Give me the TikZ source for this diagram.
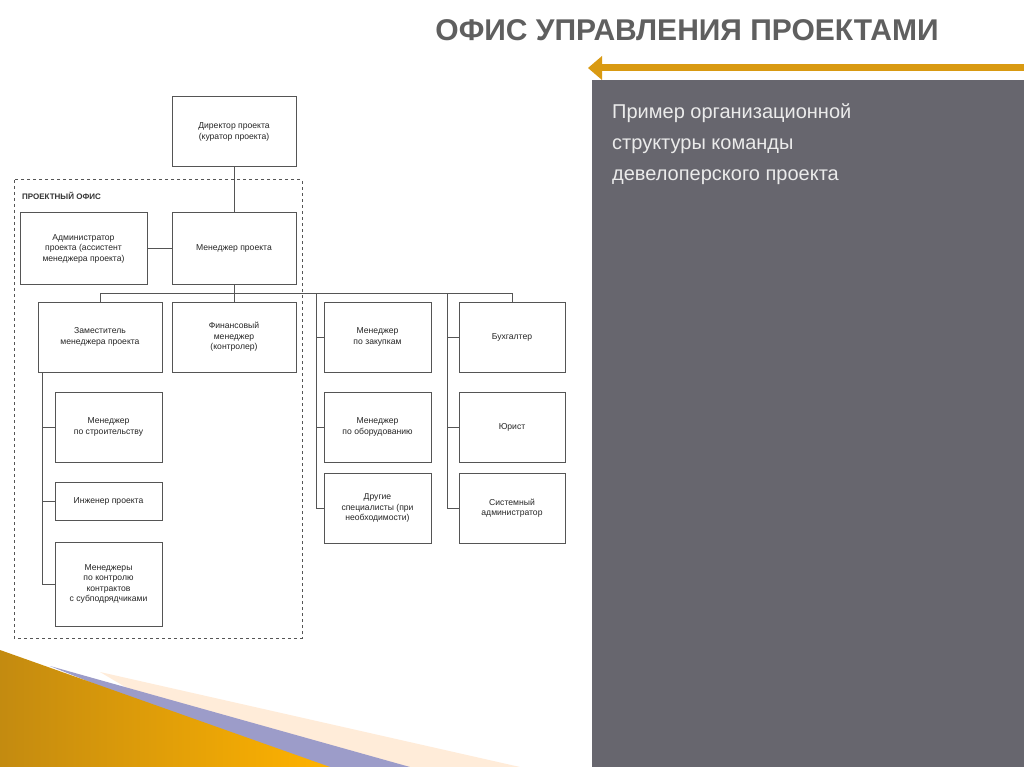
\documentclass[tikz,border=0pt]{standalone}
\usepackage{fontspec}
\setmainfont{Liberation Sans}
\definecolor{panel}{HTML}{67666E}
\definecolor{orng}{HTML}{D99A12}
\definecolor{ttl}{HTML}{5F5F5F}
\definecolor{ln}{HTML}{555555}
\begin{document}
\begin{tikzpicture}[x=1pt,y=-1pt,
  bx/.style={draw=ln,line width=1pt,align=center,font=\fontsize{8.6}{10.5}\selectfont,text=black!85,inner sep=1pt},
  cn/.style={draw=ln,line width=1pt}]
\useasboundingbox (0,0) rectangle (1024,767);
\fill[white] (0,0) rectangle (1024,767);
% panel
\fill[panel] (592,80) rectangle (1024,767);
\draw[orng,line width=7pt] (600,68) -- (1024,68);
\fill[orng] (588,68) -- (602,56) -- (602,80) -- cycle;
\node[anchor=center,font=\bfseries\fontsize{30}{34}\selectfont,text=ttl] (title) at (687,30) {ОФИС УПРАВЛЕНИЯ ПРОЕКТАМИ};
\node[anchor=north west,align=left,text=white!92!black,font=\fontsize{20}{31}\selectfont,inner sep=0] (ptxt) at (612,103) {Пример организационной\\структуры команды\\девелоперского проекта};
% bottom decoration
\fill[orange!15] (100,672) -- (520,767) -- (260,767) -- cycle;
\fill[gray!70!blue!60] (50,666) -- (410,767) -- (300,767) -- cycle;
\shade[left color=orng!90!black,right color=orange!60!yellow] (0,650) -- (330,767) -- (0,767) -- cycle;
% office
\draw[ln,dashed,line width=1pt] (14,180) rectangle (302,638);
\node[anchor=west,font=\bfseries\fontsize{8}{9}\selectfont,text=black!80,inner sep=0] (po) at (22,196) {ПРОЕКТНЫЙ ОФИС};
% boxes
\newcommand{\bxx}[6]{\node[bx,minimum width=#3-#2,minimum height=#5-#4] (#1) at ({(#2+#3)/2},{(#4+#5)/2}) {#6};}
\bxx{dir}{172}{296}{97}{167}{Директор проекта\\(куратор проекта)}
\bxx{adm}{20}{147}{213}{284}{Администратор\\проекта (ассистент\\менеджера проекта)}
\bxx{man}{172}{296}{213}{284}{Менеджер проекта}
\bxx{dep}{38}{162}{302}{372}{Заместитель\\менеджера проекта}
\bxx{fin}{172}{296}{302}{372}{Финансовый\\менеджер\\(контролер)}
\bxx{pur}{324}{431}{302}{372}{Менеджер\\по закупкам}
\bxx{buh}{459}{565}{302}{372}{Бухгалтер}
\bxx{con}{55}{162}{392}{462}{Менеджер\\по строительству}
\bxx{eng}{55}{162}{482}{520}{Инженер проекта}
\bxx{ctr}{55}{162}{542}{626}{Менеджеры\\по контролю\\контрактов\\с субподрядчиками}
\bxx{equ}{324}{431}{392}{462}{Менеджер\\по оборудованию}
\bxx{oth}{324}{431}{473}{543}{Другие\\специалисты (при\\необходимости)}
\bxx{law}{459}{565}{392}{462}{Юрист}
\bxx{sys}{459}{565}{473}{543}{Системный\\администратор}
% connectors
\coordinate (bl) at (100,293);
\coordinate (br) at (512,293);
\draw[cn] (dir) -- (man);
\draw[cn] (adm) -- (man);
\draw[cn] (man.south) -- (234,293);
\draw[cn] (bl) -- (br);
\draw[cn] (bl) -- (dep.north -| bl);
\draw[cn] (234,293) -- (fin.north);
\draw[cn] (br) -- (buh.north -| br);
\draw[cn] (316,293) |- (oth.west);
\draw[cn] (316,337) -- (pur.west);
\draw[cn] (316,427) -- (equ.west);
\draw[cn] (447,293) |- (sys.west);
\draw[cn] (447,337) -- (buh.west);
\draw[cn] (447,427) -- (law.west);
\draw[cn] (42,372) |- (ctr.west);
\draw[cn] (42,427) -- (con.west);
\draw[cn] (42,501) -- (eng.west);
\end{tikzpicture}
\end{document}
